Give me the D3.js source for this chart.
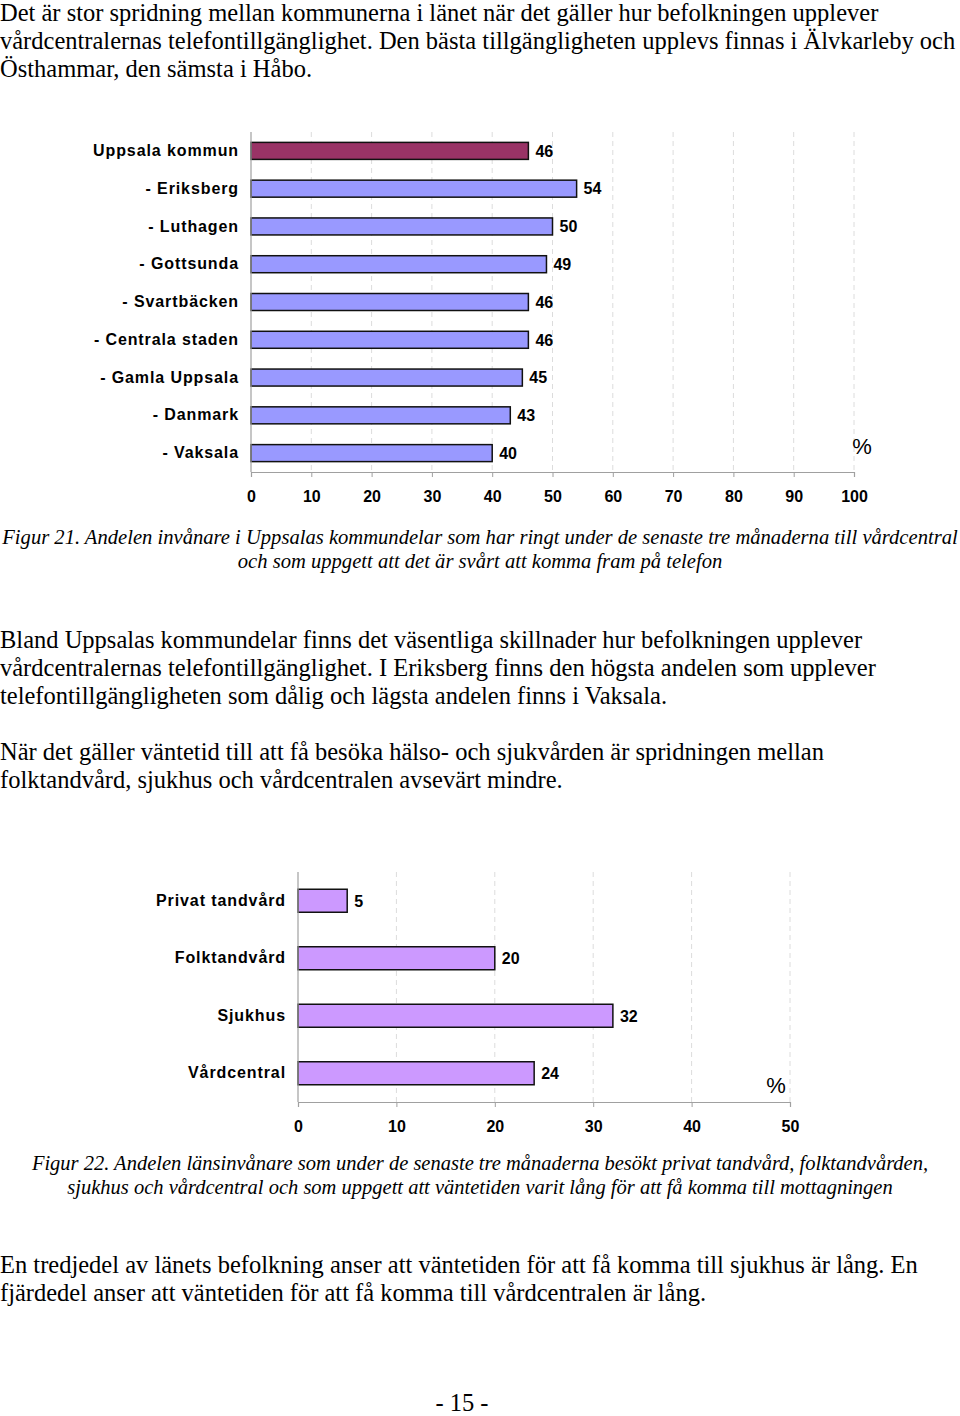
<!DOCTYPE html>
<html><head><meta charset="utf-8">
<script src="https://cdn.jsdelivr.net/npm/d3@7"></script>
<style>
body{margin:0;background:#fff;}
svg{display:block;}
</style></head>
<body>
<svg id="page" width="960" height="1416"></svg>
<script>
// Chart 1 data
const districts = ["Uppsala kommun","- Eriksberg","- Luthagen","- Gottsunda","- Svartbäcken","- Centrala staden","- Gamla Uppsala","- Danmark","- Vaksala"];
const districtValues = [46,54,50,49,46,46,45,43,40];
const ticks1 = [0,10,20,30,40,50,60,70,80,90,100];
// Chart 2 data
const careTypes = ["Privat tandvård","Folktandvård","Sjukhus","Vårdcentral"];
const careValues = [5,20,32,24];
const ticks2 = [0,10,20,30,40,50];

const svg = d3.select("#page");
const serif = "'Liberation Serif','Times New Roman',serif";
const sans = "'Liberation Sans',Arial,sans-serif";

function para(lines, x, y0, lh, opts={}) {
  const g = svg.append("g");
  lines.forEach((t,i)=>{
    g.append("text").attr("x",x).attr("y",y0+i*lh)
      .attr("font-family",serif).attr("font-size",opts.size||24.5)
      .attr("font-style",opts.italic?"italic":"normal")
      .attr("text-anchor",opts.anchor||"start")
      .attr("fill","#000").text(t);
  });
}

para(["Det är stor spridning mellan kommunerna i länet när det gäller hur befolkningen upplever",
      "vårdcentralernas telefontillgänglighet. Den bästa tillgängligheten upplevs finnas i Älvkarleby och",
      "Östhammar, den sämsta i Håbo."],0,21,28);

function barChart(cfg){
  const x = d3.scaleLinear().domain(cfg.domain).range([cfg.x0,cfg.x1]);
  const y = d3.scaleBand().domain(cfg.cats).range([cfg.top,cfg.bottom]).paddingInner(cfg.pad).paddingOuter(cfg.pad/2);
  const g = svg.append("g");
  // gridlines
  g.selectAll("line.grid").data(cfg.ticks.slice(1)).join("line")
    .attr("x1",d=>x(d)).attr("x2",d=>x(d)).attr("y1",cfg.top).attr("y2",cfg.bottom)
    .attr("stroke","#dcdcdc").attr("stroke-width",1).attr("stroke-dasharray","5,4");
  // bars
  g.selectAll("rect").data(cfg.values).join("rect")
    .attr("x",x(0)).attr("y",(d,i)=>y(cfg.cats[i]))
    .attr("width",d=>x(d)-x(0)).attr("height",y.bandwidth())
    .attr("fill",(d,i)=>cfg.colors(i)).attr("stroke","#111").attr("stroke-width",1.5);
  // value labels
  g.selectAll("text.val").data(cfg.values).join("text")
    .attr("x",d=>x(d)+cfg.valOff).attr("y",(d,i)=>y(cfg.cats[i])+y.bandwidth()/2)
    .attr("dy","0.36em").attr("font-family",sans).attr("font-weight","bold")
    .attr("font-size",16).attr("fill","#000").text(d=>d);
  // x axis
  const ax = g.append("g").attr("transform",`translate(0,${cfg.bottom})`)
    .call(d3.axisBottom(x).tickValues(cfg.ticks).tickSize(5).tickPadding(14).tickFormat(d3.format("d")));
  ax.select(".domain").attr("stroke","#a0a0a0").attr("stroke-width",1.2);
  ax.selectAll(".tick line").attr("stroke","#a0a0a0");
  ax.selectAll(".tick text").attr("font-family",sans).attr("font-weight","bold").attr("font-size",16).attr("fill","#000");
  // y axis
  const ay = g.append("g").attr("transform",`translate(${x(0)},0)`)
    .call(d3.axisLeft(y).tickSize(0).tickPadding(cfg.labPad));
  ay.select(".domain").attr("d",`M0,${cfg.top}V${cfg.bottom}`).attr("stroke","#a0a0a0").attr("stroke-width",1.2);
  ay.selectAll(".tick text").attr("font-family",sans).attr("font-weight","bold").attr("font-size",16)
    .attr("letter-spacing","0.9px").attr("fill","#000");
  // percent
  g.append("text").attr("x",cfg.pctX).attr("y",cfg.pctY).attr("text-anchor","middle")
    .attr("font-family",sans).attr("font-size",22).attr("fill","#000").text("%");
  return g;
}

barChart({cats:districts,values:districtValues,ticks:ticks1,domain:[0,100],
  x0:251,x1:854,top:132,bottom:472,pad:0.55,valOff:7,labPad:12,
  colors:i=>i===0?"#993366":"#9999ff",pctX:862,pctY:454});

para(["Figur 21. Andelen invånare i Uppsalas kommundelar  som har ringt under de senaste tre månaderna till vårdcentral",
      "och som uppgett att det är svårt att komma fram på telefon"],480,544,24,{italic:true,size:20.6,anchor:"middle"});

para(["Bland Uppsalas kommundelar finns det väsentliga skillnader hur befolkningen upplever",
      "vårdcentralernas telefontillgänglighet. I Eriksberg finns den högsta andelen som upplever",
      "telefontillgängligheten som dålig och lägsta andelen finns i Vaksala."],0,648,28);
para(["När det gäller väntetid till att få besöka hälso- och sjukvården är spridningen mellan",
      "folktandvård, sjukhus och vårdcentralen avsevärt mindre."],0,760,28);

barChart({cats:careTypes,values:careValues,ticks:ticks2,domain:[0,50],
  x0:298,x1:790,top:872,bottom:1102,pad:0.6,valOff:7,labPad:12,
  colors:i=>"#cc99ff",pctX:776,pctY:1093});

para(["Figur 22. Andelen länsinvånare som under de senaste tre månaderna besökt privat tandvård, folktandvården,",
      "sjukhus och vårdcentral och som uppgett att väntetiden varit lång för att få komma till mottagningen"],480,1170,24,{italic:true,size:20.5,anchor:"middle"});

para(["En tredjedel av länets befolkning anser att väntetiden för att få komma till sjukhus är lång. En",
      "fjärdedel anser att väntetiden för att få komma till vårdcentralen är lång."],0,1273,28);

para(["- 15 -"],462,1411,28,{anchor:"middle"});
</script>
</body></html>
